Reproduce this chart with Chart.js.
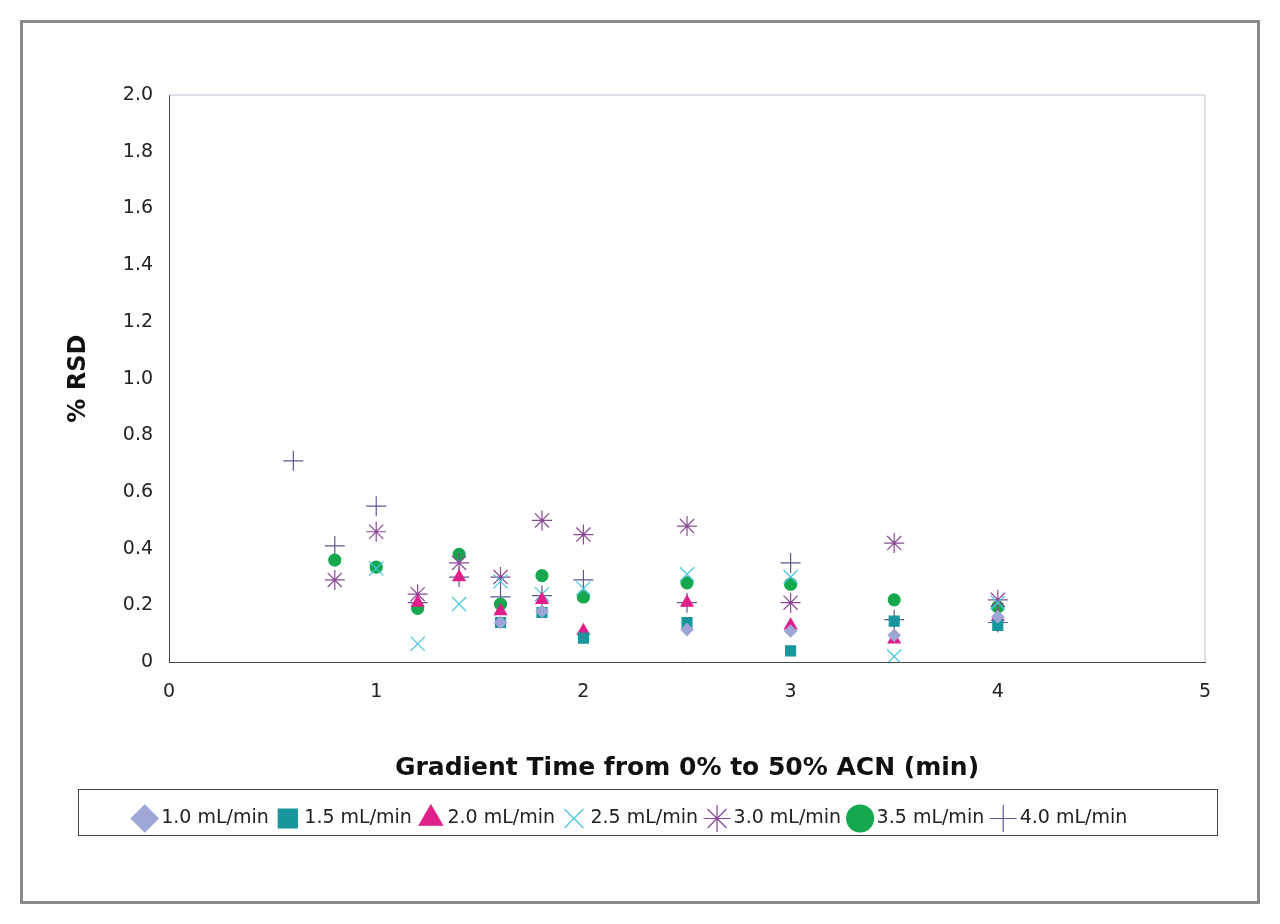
<!DOCTYPE html>
<html><head><meta charset="utf-8">
<script src="https://cdn.jsdelivr.net/npm/chart.js@4"></script>
<style>
body{margin:0;background:#fff}
#wrap{position:absolute;left:20px;top:20px;width:1234px;height:878px;border:3px solid #8a8a8a}
canvas{position:absolute;left:0;top:0}
</style></head><body>
<div id="wrap"></div>
<canvas id="c" width="1280" height="924"></canvas>
<script>
// gradient times (min) and %RSD per flow rate
const times = [0.6, 0.8, 1.0, 1.2, 1.4, 1.6, 1.8, 2.0, 2.5, 3.0, 3.5, 4.0]
const rsd10 = [null, null, null, null, null, 0.14, 0.18, null, 0.115, 0.11, 0.095, 0.16]
const rsd15 = [null, null, null, null, null, 0.14, 0.175, 0.085, 0.14, 0.04, 0.145, 0.13]
const rsd20 = [null, null, null, 0.21, 0.30, 0.18, 0.22, 0.11, 0.21, 0.13, 0.08, 0.16]
const rsd25 = [null, null, 0.33, 0.065, 0.205, 0.285, 0.24, 0.26, 0.31, 0.30, 0.02, 0.21]
const rsd30 = [null, 0.29, 0.46, 0.24, 0.35, 0.30, 0.50, 0.45, 0.48, 0.21, 0.42, 0.22]
const rsd35 = [null, 0.36, 0.335, 0.19, 0.38, 0.205, 0.305, 0.23, 0.28, 0.275, 0.22, 0.195]
const rsd40 = [0.71, 0.41, 0.55, 0.21, 0.30, 0.23, 0.235, 0.29, 0.21, 0.35, 0.15, 0.14]

const series = [
  { name: "1.0 mL/min", data: rsd10, color: "#9ea6d6", style: "rectRot", r: 6 },
  { name: "1.5 mL/min", data: rsd15, color: "#17969c", style: "rect", r: 7 },
  { name: "2.0 mL/min", data: rsd20, color: "#e0208a", style: "triangle", r: 7 },
  { name: "2.5 mL/min", data: rsd25, color: "#45c4e0", style: "crossRot", r: 10 },
  { name: "3.0 mL/min", data: rsd30, color: "#8a4898", style: "star", r: 10 },
  { name: "3.5 mL/min", data: rsd35, color: "#16a84e", style: "circle", r: 6 },
  { name: "4.0 mL/min", data: rsd40, color: "#5a5a96", style: "cross", r: 10 }
]

const frame = {
  id: "frame",
  afterDraw(chart) {
    const { ctx, chartArea: a, legend: l } = chart
    ctx.save()
    ctx.strokeStyle = "#b8c4d0"; ctx.lineWidth = 1
    ctx.beginPath(); ctx.moveTo(a.left, a.top); ctx.lineTo(a.right, a.top); ctx.lineTo(a.right, a.bottom); ctx.stroke()
    ctx.strokeStyle = "#444"; ctx.lineWidth = 1
    ctx.strokeRect(78.5, 789.5, 1139, 46)
    ctx.restore()
  }
}

new Chart(document.getElementById("c"), {
  type: "scatter",
  data: {
    datasets: series.map(s => ({
      label: s.name,
      data: times.map((t, i) => s.data[i] == null ? null : { x: t, y: s.data[i] }).filter(p => p),
      borderColor: s.color,
      backgroundColor: s.color,
      pointStyle: s.style,
      pointRadius: s.r,
      pointBorderWidth: 1.2
    }))
  },
  options: {
    responsive: false,
    animation: false,
    layout: { padding: { left: 60, right: 75, top: 95, bottom: 86 } },
    plugins: {
      legend: {
        position: "bottom",
        labels: { usePointStyle: true, color: "#222", font: { family: "DejaVu Sans", size: 19 }, padding: 12, boxWidth: 14 }
      },
      tooltip: { enabled: false }
    },
    scales: {
      x: {
        min: 0, max: 5,
        grid: { display: false, drawTicks: true, tickLength: 8, color: "#444" },
        border: { color: "#444" },
        ticks: { stepSize: 1, color: "#222", font: { family: "DejaVu Sans", size: 19 }, padding: 10 },
        title: { display: true, text: "Gradient Time from 0% to 50% ACN (min)", color: "#111", font: { family: "DejaVu Sans", size: 25, weight: "bold" }, padding: { top: 40, bottom: 14 } }
      },
      y: {
        min: 0, max: 2,
        grid: { display: false, tickLength: 6 },
        border: { color: "#444" },
        ticks: { stepSize: 0.2, color: "#222", font: { family: "DejaVu Sans", size: 19 }, padding: 10 },
        title: { display: true, text: "% RSD", color: "#111", font: { family: "DejaVu Sans", size: 24, weight: "bold" }, padding: { bottom: 20 } }
      }
    }
  },
  plugins: [frame]
})
</script>
</body></html>
